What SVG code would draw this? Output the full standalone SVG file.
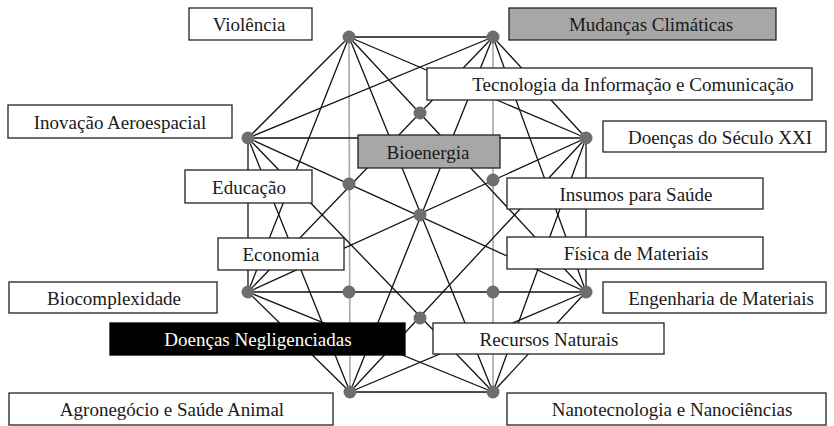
<svg xmlns="http://www.w3.org/2000/svg" width="834" height="426" viewBox="0 0 834 426">
<style>
.e{stroke:#111;stroke-width:1.3;fill:none}
.g{stroke:#a8a8a8;stroke-width:1.6;fill:none}
.b{fill:#fff;stroke:#222;stroke-width:1.3}
.gr{fill:#a7a7a7;stroke:#222;stroke-width:1.3}
.bk{fill:#000;stroke:#000;stroke-width:1.3}
text{font-family:"Liberation Serif","Times New Roman",serif;font-size:19px;fill:#1a1a1a;text-anchor:middle}
.w{fill:#fff}
.d{fill:#6e6e72}
</style>
<rect width="834" height="426" fill="#fff"/>
<g id="connectors">
<line class="g" x1="349" y1="37" x2="350" y2="392"/>
<line class="g" x1="493" y1="37" x2="493" y2="392"/>
<line class="e" x1="349" y1="37" x2="493" y2="37"/>
<line class="e" x1="349" y1="37" x2="248" y2="138"/>
<line class="e" x1="349" y1="37" x2="586" y2="138"/>
<line class="e" x1="349" y1="37" x2="248" y2="292"/>
<line class="e" x1="349" y1="37" x2="586" y2="292"/>
<line class="e" x1="349" y1="37" x2="493" y2="392"/>
<line class="e" x1="493" y1="37" x2="248" y2="138"/>
<line class="e" x1="493" y1="37" x2="586" y2="138"/>
<line class="e" x1="493" y1="37" x2="248" y2="292"/>
<line class="e" x1="493" y1="37" x2="586" y2="292"/>
<line class="e" x1="493" y1="37" x2="350" y2="392"/>
<line class="e" x1="248" y1="138" x2="586" y2="138"/>
<line class="e" x1="248" y1="138" x2="248" y2="292"/>
<line class="e" x1="248" y1="138" x2="586" y2="292"/>
<line class="e" x1="248" y1="138" x2="350" y2="392"/>
<line class="e" x1="248" y1="138" x2="493" y2="392"/>
<line class="e" x1="586" y1="138" x2="248" y2="292"/>
<line class="e" x1="586" y1="138" x2="586" y2="292"/>
<line class="e" x1="586" y1="138" x2="350" y2="392"/>
<line class="e" x1="586" y1="138" x2="493" y2="392"/>
<line class="e" x1="248" y1="292" x2="586" y2="292"/>
<line class="e" x1="248" y1="292" x2="350" y2="392"/>
<line class="e" x1="248" y1="292" x2="493" y2="392"/>
<line class="e" x1="586" y1="292" x2="350" y2="392"/>
<line class="e" x1="586" y1="292" x2="493" y2="392"/>
<line class="e" x1="350" y1="392" x2="493" y2="392"/>
</g>
<g id="violencia"><rect class="b" x="189" y="8" width="123" height="32"/><text x="249" y="31">Violência</text></g>
<g id="mudancas"><rect class="gr" x="509" y="8" width="267" height="32"/><text x="651" y="31">Mudanças Climáticas</text></g>
<g id="tecnologia"><rect class="b" x="427" y="68" width="385" height="32"/><text x="633" y="91">Tecnologia da Informação e Comunicação</text></g>
<g id="inovacao"><rect class="b" x="8" y="105" width="224" height="33"/><text x="120" y="129">Inovação Aeroespacial</text></g>
<g id="doencas21"><rect class="b" x="603" y="121" width="223" height="31"/><text x="720" y="144">Doenças do Século XXI</text></g>
<g id="bioenergia"><rect class="gr" x="358" y="135" width="142" height="33"/><text x="428" y="159">Bioenergia</text></g>
<g id="educacao"><rect class="b" x="185" y="170" width="127" height="33"/><text x="249" y="194">Educação</text></g>
<g id="insumos"><rect class="b" x="507" y="178" width="256" height="31"/><text x="636" y="201">Insumos para Saúde</text></g>
<g id="economia"><rect class="b" x="218" y="238" width="126" height="32"/><text x="281" y="261">Economia</text></g>
<g id="fisica"><rect class="b" x="507" y="237" width="256" height="32"/><text x="636" y="260">Física de Materiais</text></g>
<g id="biocomplexidade"><rect class="b" x="9" y="282" width="208" height="31"/><text x="114" y="305">Biocomplexidade</text></g>
<g id="engenharia"><rect class="b" x="603" y="282" width="223" height="31"/><text x="721" y="305">Engenharia de Materiais</text></g>
<g id="negligenciadas"><rect class="bk" x="110" y="323" width="295" height="32"/><text class="w" x="258" y="346">Doenças Negligenciadas</text></g>
<g id="recursos"><rect class="b" x="433" y="323" width="231" height="31"/><text x="549" y="346">Recursos Naturais</text></g>
<g id="agronegocio"><rect class="b" x="9" y="393" width="324" height="32"/><text x="172" y="416">Agronegócio e Saúde Animal</text></g>
<g id="nanotecnologia"><rect class="b" x="507" y="393" width="319" height="32"/><text x="672" y="416">Nanotecnologia e Nanociências</text></g>
<g id="vertices">
<circle class="d" id="vA" cx="349" cy="37" r="6.5"/>
<circle class="d" id="vB" cx="493" cy="37" r="6.5"/>
<circle class="d" id="vC" cx="248" cy="138" r="6.5"/>
<circle class="d" id="vD" cx="586" cy="138" r="6.5"/>
<circle class="d" id="vE" cx="248" cy="292" r="6.5"/>
<circle class="d" id="vF" cx="586" cy="292" r="6.5"/>
<circle class="d" id="vG" cx="350" cy="392" r="6.5"/>
<circle class="d" id="vH" cx="493" cy="392" r="6.5"/>
<circle class="d" id="vI" cx="420" cy="113" r="6.5"/>
<circle class="d" id="vJ" cx="349" cy="184" r="6.5"/>
<circle class="d" id="vK" cx="493" cy="180" r="6.5"/>
<circle class="d" id="vL" cx="420" cy="215" r="6.5"/>
<circle class="d" id="vM" cx="349" cy="292" r="6.5"/>
<circle class="d" id="vN" cx="493" cy="292" r="6.5"/>
<circle class="d" id="vO" cx="420" cy="318" r="6.5"/>
</g>
</svg>
